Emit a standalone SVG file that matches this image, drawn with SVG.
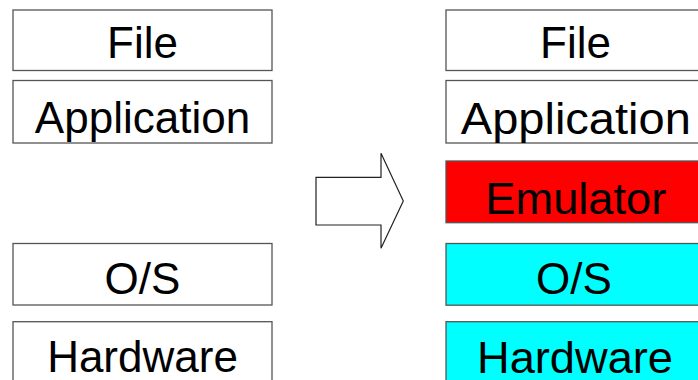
<svg xmlns="http://www.w3.org/2000/svg" width="698" height="380" viewBox="0 0 698 380">
  <style>
    .box { stroke: #555; stroke-width: 1.3; }
    .plain { fill: #fff; }
    .emu { fill: #ff0000; }
    .cyan { fill: #00ffff; }
    .label { font-family: "Liberation Sans", Arial, sans-serif; font-size: 44px; fill: #000; text-anchor: middle; }
  </style>
  <rect width="698" height="380" fill="#fff"/>

  <!-- Left stack: before -->
  <g id="left-file">
    <rect class="box plain" x="13" y="10" width="259" height="60.5"/>
    <text class="label" x="142.5" y="57.5">File</text>
  </g>
  <g id="left-application">
    <rect class="box plain" x="13" y="80.5" width="259" height="62.5"/>
    <text class="label" x="142.5" y="132.7">Application</text>
  </g>
  <g id="left-os">
    <rect class="box plain" x="13" y="243.5" width="259" height="61.5"/>
    <text class="label" x="142.5" y="293.5">O/S</text>
  </g>
  <g id="left-hardware">
    <rect class="box plain" x="13" y="321.7" width="259" height="70"/>
    <text class="label" x="142.5" y="371.7">Hardware</text>
  </g>

  <!-- Block arrow between the stacks -->
  <g id="arrow">
    <polygon points="316,177.3 381,177.3 381,153.3 403.3,201 381,248.3 381,225 316,225" fill="#fff" stroke="#222" stroke-width="1.2" stroke-linejoin="miter"/>
  </g>

  <!-- Right stack: after -->
  <g id="right-file">
    <rect class="box plain" x="446" y="10" width="259" height="60.5"/>
    <text class="label" x="575.5" y="57.5">File</text>
  </g>
  <g id="right-application">
    <rect class="box plain" x="446" y="80.5" width="259" height="62.5"/>
    <text class="label" x="575.8" y="134" textLength="230" lengthAdjust="spacingAndGlyphs">Application</text>
  </g>
  <g id="right-emulator">
    <rect class="box emu" x="446" y="161" width="259" height="61.7"/>
    <text class="label" x="575.8" y="214" textLength="181" lengthAdjust="spacingAndGlyphs">Emulator</text>
  </g>
  <g id="right-os">
    <rect class="box cyan" x="446" y="243.5" width="259" height="61.7"/>
    <text class="label" x="574" y="294">O/S</text>
  </g>
  <g id="right-hardware">
    <rect class="box cyan" x="446" y="321.7" width="259" height="70"/>
    <text class="label" x="575" y="372.5" textLength="196" lengthAdjust="spacingAndGlyphs">Hardware</text>
  </g>

  <g id="connectors"/>
</svg>
